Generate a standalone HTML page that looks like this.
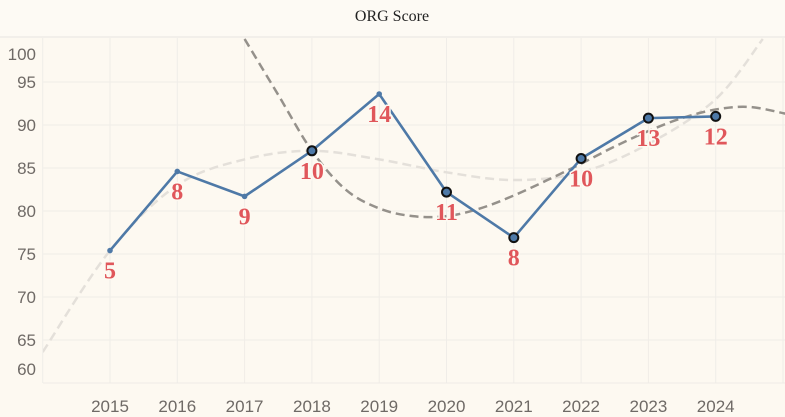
<!DOCTYPE html>
<html><head><meta charset="utf-8"><style>
html,body{margin:0;padding:0;background:#fdf9f1;}
svg{display:block;font-family:"Liberation Sans",sans-serif;}
</style></head><body>
<svg width="785" height="417" viewBox="0 0 785 417">
<rect x="0" y="0" width="785" height="417" fill="#fdf9f1"/>
<rect x="0" y="0" width="785" height="36" fill="#fdfaf4"/>
<line x1="0" y1="37" x2="785" y2="37" stroke="#f2efea" stroke-width="2"/>
<text x="392" y="21" text-anchor="middle" font-family="Liberation Serif, serif" font-size="16" fill="#222">ORG Score</text>
<g id="grid"></g><g id="axes"></g><g id="trends"></g><g id="series"></g><g id="labels"></g>
</svg>
<script>
const years=[2015,2016,2017,2018,2019,2020,2021,2022,2023,2024];
const scores=[75.4,84.6,81.7,87.0,93.6,82.2,76.9,86.1,90.8,91.0];
const counts=[5,8,9,10,14,11,8,10,13,12];
const circled=[false,false,false,true,false,true,true,true,true,true];
const yTicks=[60,65,70,75,80,85,90,95,100];
const lightTrendX=[2014,2015,2016,2017,2018,2019,2020,2021,2022,2023,2024,2024.7];
const lightTrendY=[63.6,75.4,83,86,87,86,84.5,83.6,84.5,87.8,93,100];
const darkTrendX=[2017,2017.5,2018,2018.5,2019,2019.5,2020,2020.5,2021,2021.5,2022,2022.5,2023,2023.5,2024,2024.5,2025.05];
const darkTrendY=[100,93.5,87,82.5,80.3,79.4,79.4,80.3,81.8,83.6,85.5,87.5,89.3,90.8,91.8,92.1,91.3];

const NS="http://www.w3.org/2000/svg";
const X=yr=>110+(yr-2015)*67.3;
const Y=v=>254-(v-75)*8.6;
function mk(tag,attrs,parent){const e=document.createElementNS(NS,tag);for(const k in attrs)e.setAttribute(k,attrs[k]);document.getElementById(parent).appendChild(e);return e;}

// grid
for(const t of yTicks){
  if(t===60||t===100)continue;
  const l=mk('line',{x1:43,x2:785,y1:Y(t),y2:Y(t),stroke:'#f0ede8','stroke-width':1},'grid');
  
  
}
for(let yr=2014;yr<=2025;yr++){
  const l=mk('line',{x1:X(yr),x2:X(yr),y1:38,y2:383,stroke:'#f0ede8','stroke-width':1},'grid');
  
  
}
mk('line',{x1:43,x2:785,y1:383,y2:383,stroke:'#eeebe6'},'grid');
// y tick labels
for(const t of yTicks){
  let ly=Y(t)+6;
  if(t===100)ly=Y(95)-22;
  if(t===60)ly=Y(65)+35;
  const tx=mk('text',{x:36,y:ly,'text-anchor':'end','font-size':17,fill:'#6f6a66'},'axes');
  tx.textContent=t;
  
  
}
for(const yr of years){
  const tx=mk('text',{x:X(yr),y:412,'text-anchor':'middle','font-size':17,fill:'#6f6a66'},'axes');
  tx.textContent=yr;
  
  
}
// smooth path
function smooth(xs,ys){
  const p=xs.map((x,i)=>[X(x),Y(ys[i])]);
  let d=`M${p[0][0]},${p[0][1]}`;
  for(let i=0;i<p.length-1;i++){
    const p0=p[i-1]||p[i],p1=p[i],p2=p[i+1],p3=p[i+2]||p2;
    d+=` C${p1[0]+(p2[0]-p0[0])/6},${p1[1]+(p2[1]-p0[1])/6} ${p2[0]-(p3[0]-p1[0])/6},${p2[1]-(p3[1]-p1[1])/6} ${p2[0]},${p2[1]}`;
  }
  return d;
}
const clip=mk('clipPath',{id:'pc'},'trends');
const cr=document.createElementNS(NS,'rect');
cr.setAttribute('x',43);cr.setAttribute('y',38);cr.setAttribute('width',742);cr.setAttribute('height',345);
clip.appendChild(cr);
const lt=mk('path',{d:smooth(lightTrendX,lightTrendY),fill:'none',stroke:'#e4e0da','stroke-width':2.5,'stroke-dasharray':'9 5','clip-path':'url(#pc)'},'trends');


const dt=mk('path',{d:smooth(darkTrendX,darkTrendY),fill:'none',stroke:'#95918b','stroke-width':2.5,'stroke-dasharray':'9 5','clip-path':'url(#pc)'},'trends');


// main line
const pts=years.map((yr,i)=>`${X(yr)},${Y(scores[i])}`).join(' ');
const pl=mk('polyline',{points:pts,fill:'none',stroke:'#4e79a7','stroke-width':2.6,'stroke-linejoin':'round'},'series');


years.forEach((yr,i)=>{
  const c=circled[i]?mk('circle',{cx:X(yr),cy:Y(scores[i]),r:4.5,fill:'#4e79a7',stroke:'#111','stroke-width':2},'series')
    :mk('circle',{cx:X(yr),cy:Y(scores[i]),r:2.8,fill:'#4e79a7'},'series');
  
  
  const t=mk('text',{x:X(yr),y:Y(scores[i])+28,'text-anchor':'middle','font-family':'Liberation Serif, serif','font-weight':'bold','font-size':24,fill:'#e0575b',stroke:'#fdf9f1','stroke-width':3,'paint-order':'stroke'},'labels');
  t.textContent=counts[i];
  
  
});
</script>
</body></html>
